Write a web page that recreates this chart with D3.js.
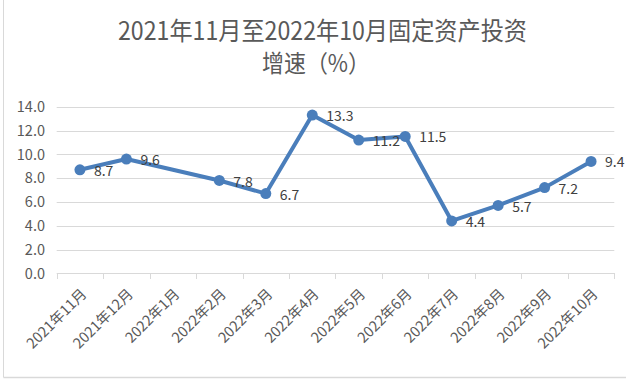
<!DOCTYPE html>
<html>
<head>
<meta charset="utf-8">
<script src="https://cdn.jsdelivr.net/npm/d3@7"></script>
<style>
  html, body { margin: 0; padding: 0; background: #fff; }
  svg { display: block; }
  text { font-family: "Noto Sans CJK SC", "Noto Sans", sans-serif; }
</style>
</head>
<body>
<svg id="chart" width="626" height="381"></svg>
<script>
const titleLines = ["2021年11月至2022年10月固定资产投资", "增速（%）"];
const categories = ["2021年11月", "2021年12月", "2022年1月", "2022年2月", "2022年3月", "2022年4月",
  "2022年5月", "2022年6月", "2022年7月", "2022年8月", "2022年9月", "2022年10月"];
const values = [8.7, 9.6, null, 7.8, 6.7, 13.3, 11.2, 11.5, 4.4, 5.7, 7.2, 9.4];
const yTicks = [0, 2, 4, 6, 8, 10, 12, 14];

const W = 626, H = 381;
const svg = d3.select("#chart");

// chart border (left & bottom visible)
svg.append("line").attr("x1", 3.5).attr("x2", 3.5).attr("y1", 0).attr("y2", 377.5)
  .attr("stroke", "#d9d9d9").attr("stroke-width", 1);
svg.append("line").attr("x1", 3.5).attr("x2", W).attr("y1", 377.5).attr("y2", 377.5)
  .attr("stroke", "#d9d9d9").attr("stroke-width", 1.5);

const x = d3.scaleBand().domain(categories).range([56.7, 614.3]);
const y = d3.scaleLinear().domain([0, 14]).range([273.3, 106.7]);

// gridlines
svg.append("g").selectAll("line").data(yTicks.filter(d => d > 0)).join("line")
  .attr("x1", 56.7).attr("x2", 614.3)
  .attr("y1", d => Math.round(y(d)) + 0.5).attr("y2", d => Math.round(y(d)) + 0.5)
  .attr("stroke", "#d9d9d9").attr("stroke-width", 1);

// x axis baseline + ticks
const bounds = d3.range(categories.length + 1).map(i => 56.7 + i * x.bandwidth());
const ax = svg.append("g");
ax.append("line").attr("x1", 56.7).attr("x2", 614.3)
  .attr("y1", Math.round(y(0)) + 0.5).attr("y2", Math.round(y(0)) + 0.5)
  .attr("stroke", "#d9d9d9").attr("stroke-width", 1);
ax.selectAll("line.tk").data(bounds).join("line").attr("class", "tk")
  .attr("x1", d => Math.round(d) + 0.5).attr("x2", d => Math.round(d) + 0.5)
  .attr("y1", Math.round(y(0))).attr("y2", Math.round(y(0)) + 6)
  .attr("stroke", "#d9d9d9").attr("stroke-width", 1);

// y tick labels
svg.append("g").selectAll("text").data(yTicks).join("text")
  .attr("x", 45).attr("y", d => y(d))
  .attr("text-anchor", "end").attr("dy", "0.36em")
  .attr("font-size", 14.5).attr("fill", "#595959")
  .text(d => d.toFixed(1));

// x tick labels rotated
svg.append("g").selectAll("text").data(categories).join("text")
  .attr("transform", d => `translate(${x(d) + x.bandwidth() / 2 + 4},${y(0) + 18}) rotate(-45)`)
  .attr("text-anchor", "end").attr("dy", "0.35em")
  .attr("font-size", 14.5).attr("fill", "#595959")
  .text(d => d);

// line (gap for missing value bridged)
const pts = categories.map((c, i) => ({ c, v: values[i] })).filter(d => d.v != null);
const line = d3.line().x(d => x(d.c) + x.bandwidth() / 2).y(d => y(d.v));
svg.append("path").datum(pts).attr("d", line)
  .attr("fill", "none").attr("stroke", "#4a7ebb").attr("stroke-width", 4)
  .attr("stroke-linejoin", "round");

svg.append("g").selectAll("circle").data(pts).join("circle")
  .attr("cx", d => x(d.c) + x.bandwidth() / 2).attr("cy", d => y(d.v))
  .attr("r", 5.5).attr("fill", "#4a7ebb");

// data labels
svg.append("g").selectAll("text").data(pts).join("text")
  .attr("x", d => x(d.c) + x.bandwidth() / 2 + 14).attr("y", d => y(d.v) + 1)
  .attr("dy", "0.36em").attr("font-size", 14).attr("fill", "#404040")
  .text(d => d.v.toFixed(1));

// title
svg.append("text").attr("x", 118).attr("y", 40)
  .attr("font-size", 25).attr("fill", "#595959")
  .attr("textLength", 409).attr("lengthAdjust", "spacingAndGlyphs")
  .text(titleLines[0]);
svg.append("text").attr("x", 262).attr("y", 72)
  .attr("font-size", 24).attr("fill", "#595959")
  .attr("textLength", 108).attr("lengthAdjust", "spacingAndGlyphs")
  .text(titleLines[1]);
</script>
</body>
</html>
